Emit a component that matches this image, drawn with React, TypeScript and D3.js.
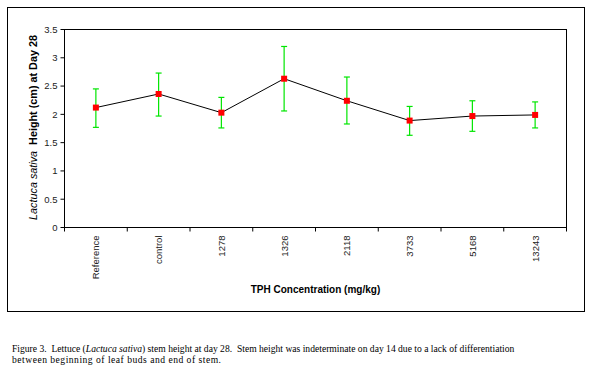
import React from "react";
import * as d3 from "d3";

const categories = ["Reference", "control", "1278", "1326", "2118", "3733", "5168", "13243"];
const means = [2.12, 2.36, 2.03, 2.63, 2.24, 1.89, 1.97, 1.99];
const upper = [2.45, 2.73, 2.30, 3.20, 2.66, 2.14, 2.24, 2.22];
const lower = [1.77, 1.97, 1.76, 2.06, 1.83, 1.63, 1.70, 1.76];
const yTicks = [0, 0.5, 1, 1.5, 2, 2.5, 3, 3.5];

const W = 594;
const H = 378;
const plot = { left: 64.5, right: 566.5, top: 29.5, bottom: 227.5 };

export default function App() {
  const x = d3.scaleBand<string>().domain(categories).range([plot.left, plot.right]).padding(0);
  const y = d3.scaleLinear().domain([0, 3.5]).range([plot.bottom, plot.top]);
  const cx = (i: number) => (x(categories[i]) as number) + x.bandwidth() / 2;
  const line = d3
    .line<number>()
    .x((_, i) => cx(i))
    .y((d) => y(d));
  const boundaries = d3.range(categories.length + 1).map((i) => plot.left + i * x.bandwidth());

  return (
    <svg width={W} height={H} style={{ position: "absolute", left: 0, top: 0, background: "#fff" }}>
      <rect x={7.5} y={7.5} width={577} height={304} fill="none" stroke="#000" strokeWidth={1} />
      <rect
        x={plot.left}
        y={plot.top}
        width={plot.right - plot.left}
        height={plot.bottom - plot.top}
        fill="none"
        stroke="#000"
        strokeWidth={1}
      />
      {yTicks.map((t) => (
        <g key={t}>
          <line x1={plot.left - 4} x2={plot.left} y1={y(t)} y2={y(t)} stroke="#000" />
          <text
            x={plot.left - 7}
            y={y(t)}
            dy="0.35em"
            textAnchor="end"
            fontFamily="Liberation Sans, Arial, sans-serif"
            fontSize={9.5}
            fill="#222"
          >
            {t}
          </text>
        </g>
      ))}
      {boundaries.map((b, i) => (
        <line key={i} x1={b} x2={b} y1={plot.bottom} y2={plot.bottom + 4} stroke="#000" />
      ))}
      {categories.map((c, i) => (
        <text
          key={c}
          transform={`translate(${cx(i) + 3.5},${plot.bottom + 8}) rotate(-90)`}
          textAnchor="end"
          fontFamily="Liberation Sans, Arial, sans-serif"
          fontSize={9.5}
          fill="#222"
        >
          {c}
        </text>
      ))}
      <path d={line(means) as string} fill="none" stroke="#000" strokeWidth={1} />
      {means.map((m, i) => (
        <g key={i} stroke="#00e600" strokeWidth={1.2}>
          <line x1={cx(i)} x2={cx(i)} y1={y(upper[i])} y2={y(lower[i])} />
          <line x1={cx(i) - 3} x2={cx(i) + 3} y1={y(upper[i])} y2={y(upper[i])} />
          <line x1={cx(i) - 3} x2={cx(i) + 3} y1={y(lower[i])} y2={y(lower[i])} />
        </g>
      ))}
      {means.map((m, i) => (
        <rect key={i} x={cx(i) - 3} y={y(m) - 3} width={6} height={6} fill="#ff0000" />
      ))}
      <text
        transform={`translate(37,${(plot.top + plot.bottom) / 2 - 1}) rotate(-90)`}
        textAnchor="middle"
        fontFamily="Liberation Sans, Arial, sans-serif"
        fontSize={10.8}
        fill="#000"
        style={{ whiteSpace: "pre" }}
      >
        <tspan fontStyle="italic">Lactuca sativa</tspan>
        <tspan fontWeight="bold">{"  Height (cm) at Day 28"}</tspan>
      </text>
      <text
        x={(plot.left + plot.right) / 2}
        y={293}
        textAnchor="middle"
        fontFamily="Liberation Sans, Arial, sans-serif"
        fontSize={10}
        fontWeight="bold"
        fill="#000"
      >
        TPH Concentration (mg/kg)
      </text>
      <text
        x={12}
        y={352}
        fontFamily="Liberation Serif, Times New Roman, serif"
        fontSize={9.6}
        fill="#000"
        style={{ whiteSpace: "pre" }}
      >
        {"Figure 3.  Lettuce ("}
        <tspan fontStyle="italic">Lactuca sativa</tspan>
        {") stem height at day 28.  Stem height was indeterminate on day 14 due to a lack of differentiation"}
      </text>
      <text
        x={12}
        y={363}
        fontFamily="Liberation Serif, Times New Roman, serif"
        fontSize={9.6}
        fill="#000"
        textLength={209}
        lengthAdjust="spacing"
      >
        between beginning of leaf buds and end of stem.
      </text>
    </svg>
  );
}
